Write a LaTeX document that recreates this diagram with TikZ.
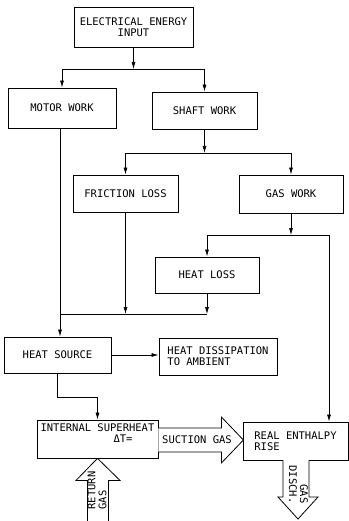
\documentclass[tikz,border=0pt]{standalone}
\usepackage{fontspec}
\setmainfont{DejaVu Sans Mono}
\usetikzlibrary{arrows.meta,positioning,calc}

\begin{document}
\begin{tikzpicture}[x=1pt,y=-1pt,
        font=\fontsize{10.5}{11}\selectfont,
        box/.style={draw,line width=0.8pt,inner sep=2pt,align=center},
        flow/.style={line width=0.7pt,-{Latex[length=7pt,width=4pt]}},
        plain/.style={line width=0.7pt},
        fat/.style={draw,line width=0.8pt,fill=white}]
    \useasboundingbox (0,0) rectangle (348,521);
    % boxes
    \node[box,minimum width=119pt,minimum height=40pt] (elec) at (133.5,27) {ELECTRICAL ENERGY\\INPUT};
    \node[box,minimum width=108pt,minimum height=40pt] (motor) at (62,108) {MOTOR WORK};
    \node[box,minimum width=105pt,minimum height=37pt] (shaft) at (204.5,110.5) {SHAFT WORK};
    \node[box,minimum width=105pt,minimum height=37pt] (friction) at (125.5,193.5) {FRICTION LOSS};
    \node[box,minimum width=104pt,minimum height=38pt] (gaswork) at (291,194) {GAS WORK};
    \node[box,minimum width=104pt,minimum height=36pt] (heatloss) at (207,275) {HEAT LOSS};
    \node[box,minimum width=107pt,minimum height=36pt] (heatsrc) at (57.5,355) {HEAT SOURCE};
    \node[box,minimum width=118pt,minimum height=37pt,align=left] (dissip) at (218,356.5) {HEAT DISSIPATION\\TO AMBIENT};
    \node[box,minimum width=121pt,minimum height=38pt] (superheat) at (97.5,439) {};
    \node[align=center] (superheattxt) at ($(superheat.north)+(0,13)$) {INTERNAL SUPERHEAT\\\hspace*{51pt}ΔT=};
    \node[box,minimum width=105pt,minimum height=38pt,align=left] (enthalpy) at (295.5,441) {REAL ENTHALPY\\RISE};

    % connectors
    \coordinate (j1) at (133.5,69);
    \draw[flow] (elec) -- (j1);
    \draw[plain] (motor.north |- j1) -- (shaft.north |- j1);
    \draw[flow] (motor.north |- j1) -- (motor);
    \draw[flow] (shaft.north |- j1) -- (shaft);

    \coordinate (j2) at (204.5,153);
    \draw[flow] (shaft) -- (j2);
    \draw[plain] (friction.north |- j2) -- (gaswork.north |- j2);
    \draw[flow] (friction.north |- j2) -- (friction);
    \draw[flow] (gaswork.north |- j2) -- (gaswork);

    \coordinate (j3) at (291,235);
    \coordinate (j3r) at (329,235);
    \draw[flow] (gaswork) -- (j3);
    \draw[plain] (heatloss.north |- j3) -- (j3r);
    \draw[flow] (heatloss.north |- j3) -- (heatloss);
    \draw[flow] (j3r) -- (j3r |- enthalpy.north);

    \coordinate (j4) at (60,314);
    \draw[flow] (friction.south) -- (friction.south |- j4);
    \draw[flow] (heatloss.south) -- (heatloss.south |- j4);
    \draw[plain] (heatloss.south |- j4) -- (j4);
    \draw[flow] (motor.south -| j4) -- (j4 |- heatsrc.north);

    \draw[flow] (heatsrc.east) -- (heatsrc.east -| dissip.west);
    \coordinate (j5) at (57.5,397);
    \draw[flow] (heatsrc.south) -- (j5) -- (j5 -| superheat.north) -- (superheat.north);

    % gas arrows
    \draw[fat] ($(superheat.east)+(0,-11)$) -- ++(63,0) -- ++(0,-11) -- ++(22,23)
        -- ++(-22,23) -- ++(0,-11) -- ++(-63,0);
    \node (suction) at (197,440) {SUCTION GAS};

    \draw[fat] (superheat.south) -- ++(22.5,22) -- ++(-11.5,0) -- ++(0,45)
        -- ++(-21,0) -- ++(0,-45) -- ++(-11.5,0) -- cycle;
    \node[rotate=90,anchor=west,align=left] (retgas) at (97,513) {RETURN\\GAS};

    \draw[fat] (283,460) -- (283,497) -- (278,497) -- (298,519) -- (318,497) -- (309,497) -- (309,460);
    \node[rotate=-90,anchor=east] (disch) at (293,507) {DISCH.};
    \node[rotate=-90,anchor=east] (dischgas) at (304,507) {GAS};
\end{tikzpicture}
\end{document}
